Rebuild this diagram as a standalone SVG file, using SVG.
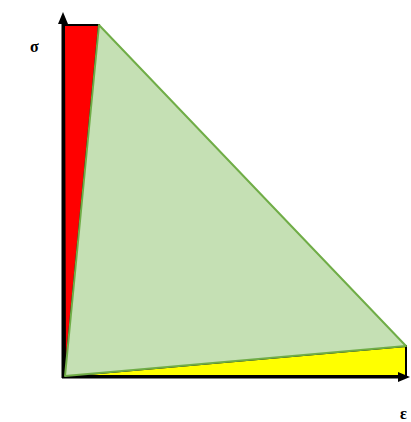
<svg xmlns="http://www.w3.org/2000/svg" width="411" height="422" viewBox="0 0 411 422">
<style>
.lbl{font-family:"Liberation Serif",serif;font-weight:bold;font-size:16px;fill:#000}
.axis{stroke:#000;stroke-width:3;fill:none}
</style>
<defs>
<marker id="ah" markerWidth="12" markerHeight="10" refX="2" refY="5" orient="auto" markerUnits="userSpaceOnUse">
<path d="M0,0 L12,5 L0,10 Z" fill="#000"/>
</marker>
</defs>
<rect width="411" height="422" fill="#fff"/>
<g id="red"><polygon points="64,25 99,25 65,376" fill="#ff0000" stroke="#000" stroke-width="2"/></g>
<g id="yellow"><polygon points="65,376 406,346 406,376" fill="#ffff00" stroke="#000" stroke-width="2"/></g>
<g id="connectors">
<line class="axis" x1="63" y1="378" x2="63" y2="22" marker-end="url(#ah)"/>
<line class="axis" x1="62" y1="377" x2="400" y2="377" marker-end="url(#ah)"/>
</g>
<g id="green"><polygon points="65,376 99,25 406,346" fill="#c5e0b4" stroke="#70ad47" stroke-width="2" stroke-linejoin="round"/></g>
<text class="lbl" x="30" y="52">σ</text>
<text class="lbl" x="400" y="419">ε</text>
</svg>
